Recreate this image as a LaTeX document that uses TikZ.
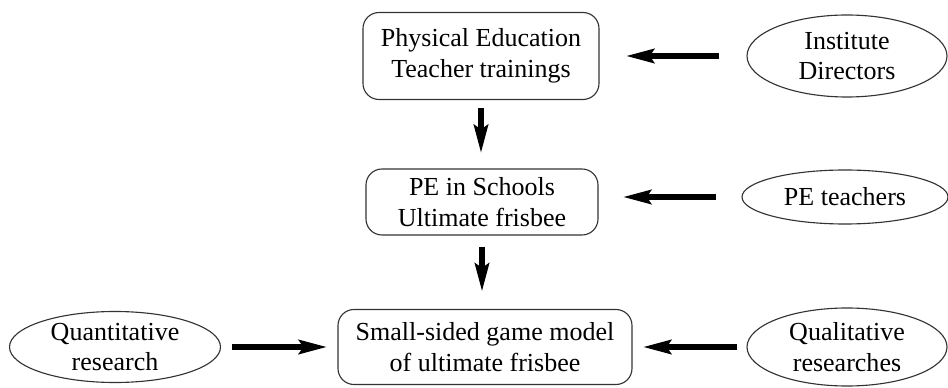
\documentclass[tikz,border=0pt]{standalone}
\usepackage{fontspec}
\setmainfont{LiberationSerif}[Extension=.ttf, UprightFont=*-Regular, BoldFont=*-Bold]
\usetikzlibrary{shapes.geometric,arrows.meta}
\begin{document}
\begin{tikzpicture}[
    box/.style={draw=black!80, line width=0.8pt, rounded corners=0.4cm, align=center, inner sep=0pt},
    oval/.style={draw=black!80, line width=0.8pt, ellipse, align=center, inner sep=0pt},
    fat/.style={line width=4.5pt, -{Stealth[length=0.7cm, width=0.34cm, inset=0.1cm]}},
    font=\fontsize{18.5}{22}\selectfont]
  \useasboundingbox (0,0) rectangle (23.7,9.7);
  \node[box, minimum width=5.9cm, minimum height=2.175cm] (train) at (12.025,8.3) {Physical Education\\Teacher trainings};
  \node[box, minimum width=5.8cm, minimum height=1.65cm] (school) at (12.05,4.65) {PE in Schools\\Ultimate frisbee};
  \node[box, minimum width=7.35cm, minimum height=1.875cm] (model) at (12.125,1.025) {Small-sided game model\\of ultimate frisbee};
  \node[oval, minimum width=5cm, minimum height=2.05cm] (inst) at (21.175,8.3) {Institute\\Directors};
  \node[oval, minimum width=5.15cm, minimum height=1.35cm] (teach) at (21.125,4.775) {PE teachers};
  \node[oval, minimum width=5cm, minimum height=1.95cm] (qual) at (21.175,1.025) {Qualitative\\researches};
  \node[oval, minimum width=5.275cm, minimum height=1.775cm] (quant) at (2.875,1.025) {Quantitative\\research};
  \draw[fat, shorten <=0.675cm, shorten >=0.65cm] (inst.west) -- (train.east);
  \draw[fat, shorten <=0.625cm, shorten >=0.6cm] (teach.west) -- (teach.west -| school.east);
  \draw[fat, shorten <=0.225cm, shorten >=0.25cm] (qual.west) -- (model.east);
  \draw[fat, shorten <=0.275cm, shorten >=0.25cm] (quant.east) -- (model.west);
  \draw[fat, shorten <=0.2cm, shorten >=0.375cm] (train.south) -- (train.south |- school.north);
  \draw[fat, shorten <=0.275cm, shorten >=0.425cm] (school.south) -- (school.south |- model.north);
\end{tikzpicture}
\end{document}
